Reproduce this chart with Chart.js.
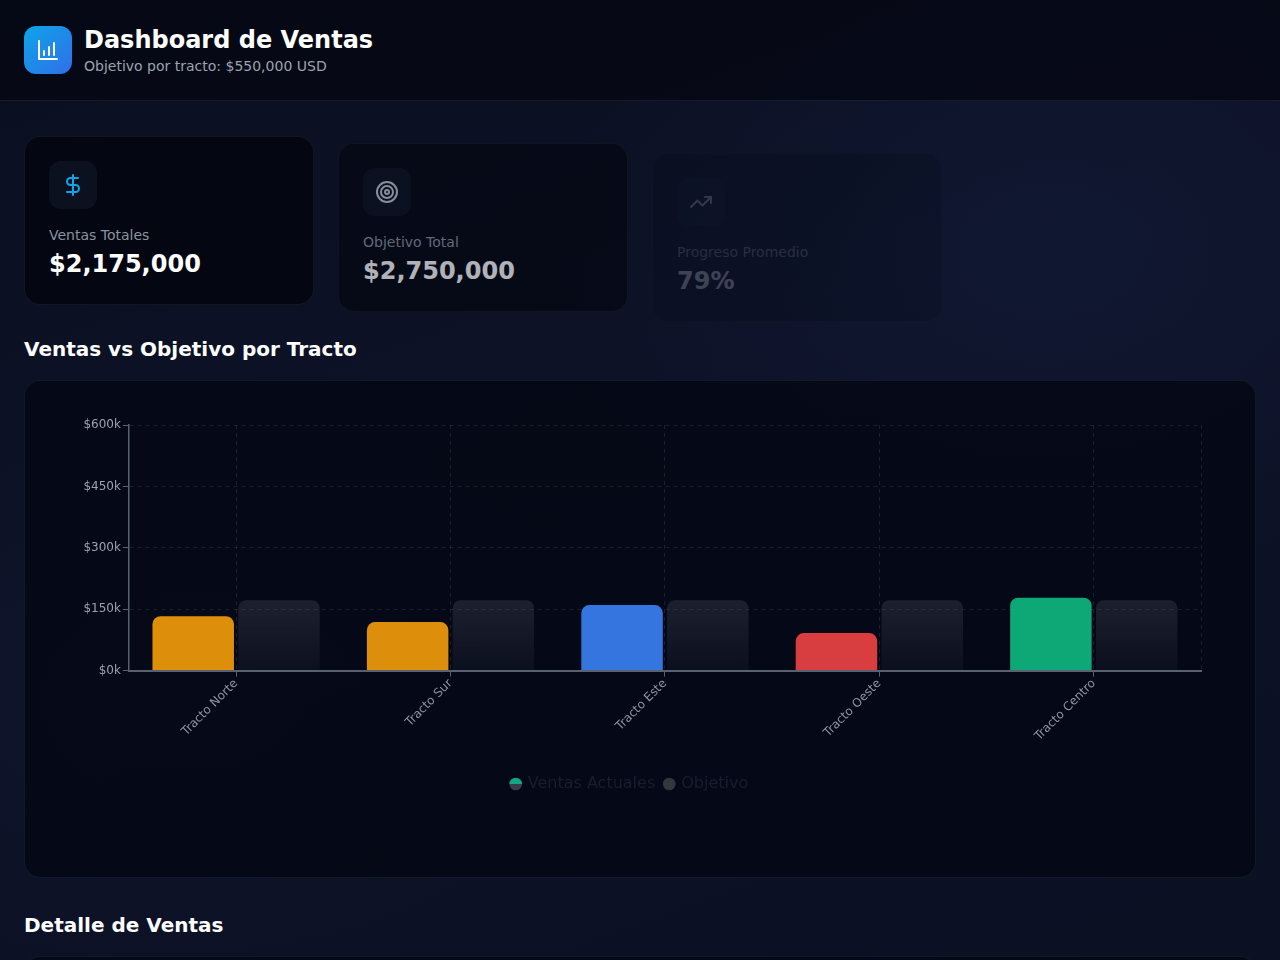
<!DOCTYPE html>
<html lang="es">
<head>
<meta charset="utf-8">
<title>Dashboard de Ventas</title>
<script src="https://cdn.jsdelivr.net/npm/chart.js@4.4.1/dist/chart.umd.min.js"></script>
<style>
*{box-sizing:border-box;margin:0;padding:0}
html,body{width:1280px;height:960px;overflow:hidden}
body{font-family:"DejaVu Sans",sans-serif;color:#fff;
  background:
   radial-gradient(ellipse 700px 500px at 1050px 250px, rgba(20,28,58,0.55), transparent 70%),
   radial-gradient(ellipse 600px 400px at 200px 700px, rgba(18,24,50,0.5), transparent 70%),
   linear-gradient(160deg,#0a0f20 0%,#0d1227 45%,#0b1023 100%);}
header{height:101px;border-bottom:1px solid rgba(148,163,184,0.12);background:rgba(4,6,16,0.72);display:flex;align-items:center;padding:0 24px}
.logo{width:48px;height:48px;border-radius:12px;background:linear-gradient(135deg,#0ea5e9,#2f6fe8);display:flex;align-items:center;justify-content:center;margin-right:12px}
.htitle{font-size:24px;line-height:30px;font-weight:bold;color:#fff}
.hsub{font-size:14px;line-height:20px;color:#9ca3af;margin-top:1px}
main{padding:35px 24px 0 24px}
.cards{display:grid;grid-template-columns:repeat(4,1fr);gap:24px}
.card{height:169px;border-radius:16px;background:rgba(3,5,14,0.82);border:1px solid rgba(148,163,184,0.1);padding:24px}
.card .ic{width:48px;height:48px;border-radius:12px;background:rgba(30,41,59,0.35);display:flex;align-items:center;justify-content:center}
.card .lbl{font-size:14px;line-height:20px;color:#8b92a0;margin-top:16px}
.card .val{font-size:24px;line-height:30px;font-weight:bold;color:#fff;margin-top:4px}
.c2{transform:translate(0px,7px);opacity:0.68}
.c3{transform:translate(0px,17px);opacity:0.2}
.c4{opacity:0}
h2{font-size:20px;line-height:24px;font-weight:bold;color:#fff}
.sec1{margin-top:32px;margin-bottom:19px}
.chartcard{height:498px;border-radius:16px;background:rgba(3,6,17,0.72);border:1px solid rgba(148,163,184,0.1);padding:24px}
.chartbox{position:relative;height:402px}
.sec2{margin-top:35px;margin-bottom:19px}
.tablecard{height:200px;border-radius:16px;background:rgba(3,6,17,0.72);border:1px solid rgba(148,163,184,0.1)}
</style>
</head>
<body>
<header>
  <div class="logo">
    <svg width="24" height="24" viewBox="0 0 24 24" fill="none" stroke="#fff" stroke-width="2" stroke-linecap="round" stroke-linejoin="round"><path d="M3 3v18h18"/><path d="M8 17v-4"/><path d="M13 17V9"/><path d="M18 17V5"/></svg>
  </div>
  <div>
    <div class="htitle">Dashboard de Ventas</div>
    <div class="hsub">Objetivo por tracto: $550,000 USD</div>
  </div>
</header>
<main>
  <div class="cards">
    <div class="card">
      <div class="ic"><svg width="24" height="24" viewBox="0 0 24 24" fill="none" stroke="#0ea5e9" stroke-width="2" stroke-linecap="round" stroke-linejoin="round"><line x1="12" y1="2" x2="12" y2="22"/><path d="M17 5H9.5a3.5 3.5 0 0 0 0 7h5a3.5 3.5 0 0 1 0 7H6"/></svg></div>
      <div class="lbl">Ventas Totales</div>
      <div class="val">$2,175,000</div>
    </div>
    <div class="card c2">
      <div class="ic"><svg width="24" height="24" viewBox="0 0 24 24" fill="none" stroke="#c4c8d0" stroke-width="2" stroke-linecap="round" stroke-linejoin="round"><circle cx="12" cy="12" r="10"/><circle cx="12" cy="12" r="6"/><circle cx="12" cy="12" r="2"/></svg></div>
      <div class="lbl">Objetivo Total</div>
      <div class="val">$2,750,000</div>
    </div>
    <div class="card c3">
      <div class="ic"><svg width="24" height="24" viewBox="0 0 24 24" fill="none" stroke="#c4c8d0" stroke-width="2" stroke-linecap="round" stroke-linejoin="round"><polyline points="22 7 13.5 15.5 8.5 10.5 2 17"/><polyline points="16 7 22 7 22 13"/></svg></div>
      <div class="lbl">Progreso Promedio</div>
      <div class="val">79%</div>
    </div>
    <div class="card c4"></div>
  </div>
  <h2 class="sec1">Ventas vs Objetivo por Tracto</h2>
  <div class="chartcard"><div class="chartbox"><canvas id="chart"></canvas></div></div>
  <h2 class="sec2">Detalle de Ventas</h2>
  <div class="tablecard"></div>
</main>
<script>
const categories = ['Tracto Norte', 'Tracto Sur', 'Tracto Este', 'Tracto Oeste', 'Tracto Centro'];
const ventasActuales = [133000, 118500, 160000, 91500, 178000];
const objetivo = [172000, 172000, 172000, 172000, 172000];
const ventasColors = ['rgba(245,158,11,0.9)', 'rgba(245,158,11,0.9)', 'rgba(59,130,246,0.9)', 'rgba(239,68,68,0.9)', 'rgba(16,185,129,0.9)'];
const yMax = 600000;
const yStep = 150000;

Chart.defaults.font.family = "'DejaVu Sans', sans-serif";

function objetivoFill(ctx) {
  const chart = ctx.chart;
  const area = chart.chartArea;
  if (!area || !ctx.parsed) return 'rgba(107,114,128,0.15)';
  const top = chart.scales.y.getPixelForValue(ctx.parsed.y);
  const g = chart.ctx.createLinearGradient(0, top, 0, area.bottom);
  g.addColorStop(0, 'rgba(107,114,128,0.23)');
  g.addColorStop(1, 'rgba(107,114,128,0.07)');
  return g;
}

const edgePlugin = {
  id: 'edgeLine',
  beforeDatasetsDraw(chart) {
    const {ctx, chartArea} = chart;
    ctx.save();
    ctx.strokeStyle = 'rgba(148,163,184,0.15)';
    ctx.lineWidth = 1;
    ctx.setLineDash([4, 4]);
    ctx.beginPath();
    ctx.moveTo(chartArea.right + 0.5, chartArea.top);
    ctx.lineTo(chartArea.right + 0.5, chartArea.bottom);
    ctx.stroke();
    ctx.restore();
  },
  beforeDraw(chart) {
    const lg = chart.legend;
    if (!lg || !lg.legendItems || !lg.legendItems.length) return;
    const cy = lg.top + 10 + 8;
    const g = chart.ctx.createLinearGradient(0, cy - 7, 0, cy + 7);
    g.addColorStop(0, '#12a588');
    g.addColorStop(0.5, '#12a588');
    g.addColorStop(0.5, '#3a3d48');
    g.addColorStop(1, '#3a3d48');
    lg.legendItems[0].fillStyle = g;
    lg.legendItems[0].strokeStyle = 'rgba(0,0,0,0)';
    if (lg.legendItems[1]) {
      lg.legendItems[1].fillStyle = '#33363f';
      lg.legendItems[1].strokeStyle = 'rgba(0,0,0,0)';
    }
  }
};

new Chart(document.getElementById('chart'), {
  type: 'bar',
  data: {
    labels: categories,
    datasets: [
      {
        label: 'Ventas Actuales',
        data: ventasActuales,
        backgroundColor: ventasColors,
        borderWidth: 0,
        borderRadius: 8,
        categoryPercentage: 0.8,
        barPercentage: 0.95
      },
      {
        label: 'Objetivo',
        data: objetivo,
        backgroundColor: objetivoFill,
        borderWidth: 0,
        borderRadius: 8,
        categoryPercentage: 0.8,
        barPercentage: 0.95
      }
    ]
  },
  options: {
    responsive: true,
    maintainAspectRatio: false,
    animation: false,
    layout: { padding: { top: 20, right: 30, left: 10, bottom: 5 } },
    plugins: {
      tooltip: { enabled: false },
      legend: {
        position: 'bottom',
        labels: {
          usePointStyle: true,
          pointStyle: 'circle',
          boxWidth: 8,
          boxHeight: 9,
          padding: 10,
          color: '#191d2f',
          font: { size: 16 }
        }
      }
    },
    scales: {
      x: {
        grid: { color: 'rgba(148,163,184,0.15)', tickColor: '#596070', tickLength: 6, tickBorderDash: [], offset: false },
        border: { color: '#596070', width: 2, dash: [4, 4] },
        ticks: { color: '#8e95a3', font: { size: 12 }, maxRotation: 45, minRotation: 45, padding: 0 },
        title: { display: true, text: ' ', color: 'rgba(0,0,0,0)', font: { size: 12 }, padding: { top: 2, bottom: 6 } }
      },
      y: {
        min: 0,
        max: yMax,
        grid: { color: 'rgba(148,163,184,0.15)', tickColor: '#596070', tickLength: 6, tickBorderDash: [] },
        border: { color: '#596070', width: 1.5, dash: [4, 4] },
        title: { display: true, text: ' ', color: 'rgba(0,0,0,0)', font: { size: 12 }, padding: { top: 4, bottom: 4 } },
        ticks: {
          stepSize: yStep,
          color: '#9ca3af',
          padding: 2,
          font: { size: 12 },
          callback: (v) => '$' + (v / 1000) + 'k'
        }
      }
    }
  },
  plugins: [edgePlugin]
});
</script>
</body>
</html>
